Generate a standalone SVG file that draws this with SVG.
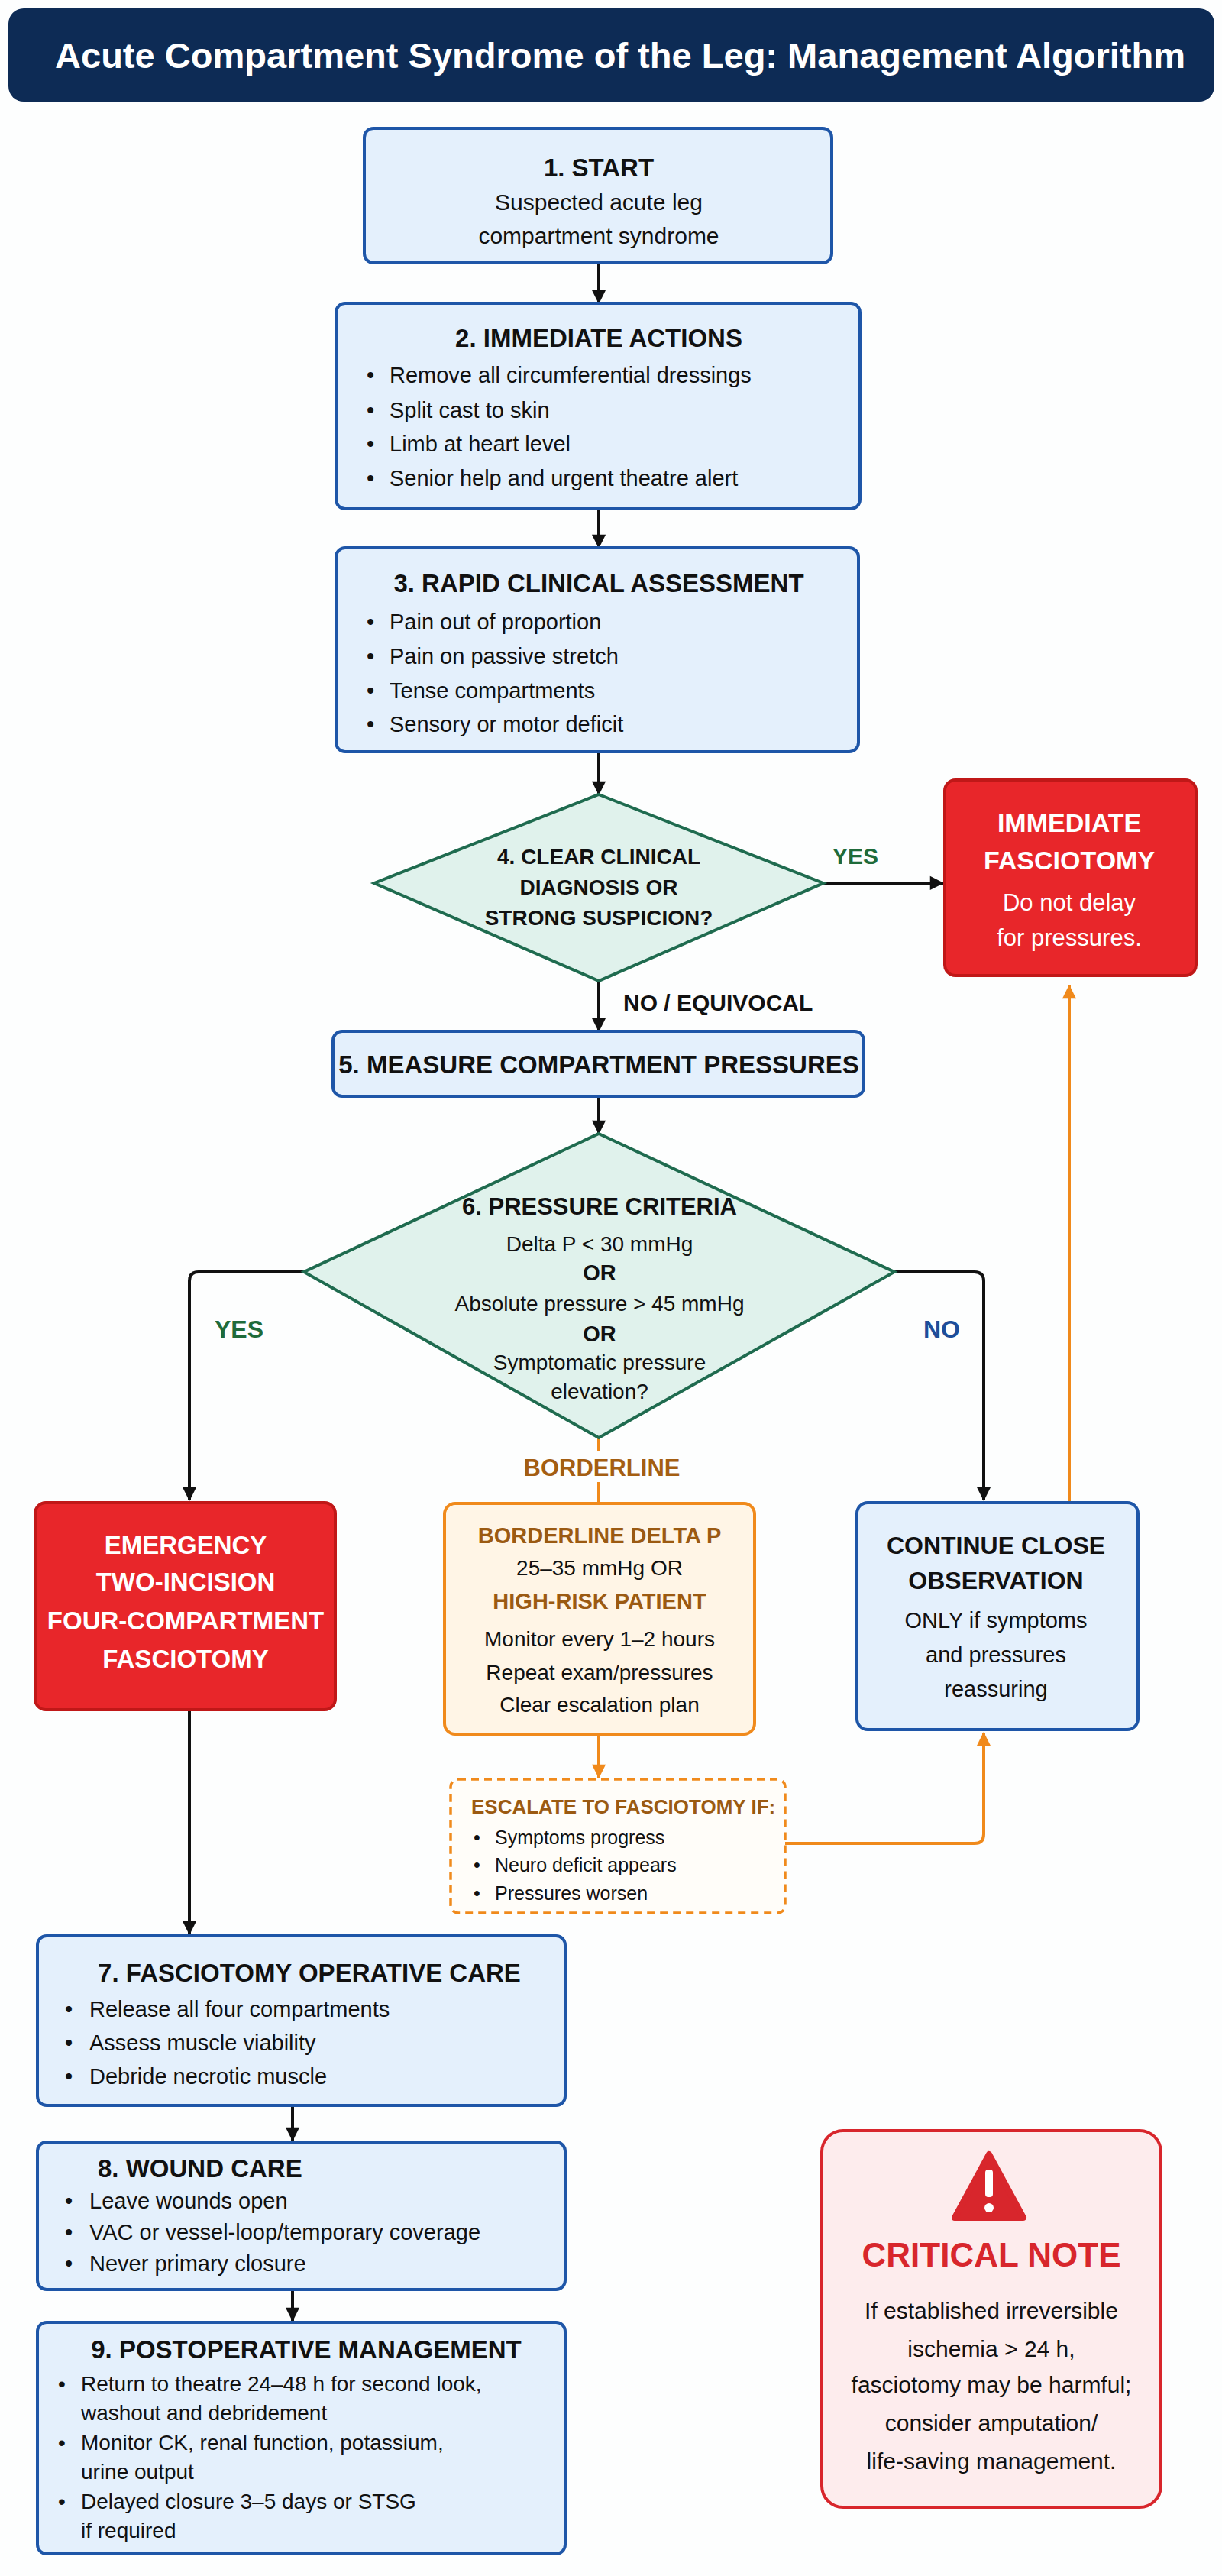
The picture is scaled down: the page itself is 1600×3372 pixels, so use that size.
<svg xmlns="http://www.w3.org/2000/svg" width="1600" height="3372" viewBox="0 0 1600 3372">
<style>
text{font-family:"Liberation Sans","Noto Sans",sans-serif;fill:#111}
.t{font-weight:bold;font-size:33px;text-anchor:middle}
.b{font-size:29px}
.c{font-size:30px;text-anchor:middle}
.box{fill:#e4f0fc;stroke:#1e56a8;stroke-width:4}
.dia{fill:#e0f2ec;stroke:#1f6b4f;stroke-width:4}
.red{fill:#e8262a;stroke:#c01818;stroke-width:4}
.w{fill:#fff;text-anchor:middle}
.ln{fill:none;stroke:#111;stroke-width:4}
.or{fill:none;stroke:#f08a1c;stroke-width:4}
</style>
<defs>
<marker id="ak" viewBox="0 0 10 10" refX="9" refY="5" markerWidth="7" markerHeight="7" markerUnits="userSpaceOnUse" orient="auto" style="overflow:visible"><path d="M0,0L10,5L0,10z" fill="#111" transform="scale(2.6) translate(-6,-3.1)"/></marker>
<marker id="ao" viewBox="0 0 10 10" refX="9" refY="5" markerWidth="7" markerHeight="7" markerUnits="userSpaceOnUse" orient="auto" style="overflow:visible"><path d="M0,0L10,5L0,10z" fill="#f08a1c" transform="scale(2.6) translate(-6,-3.1)"/></marker>
</defs>
<rect width="1600" height="3372" fill="#fdfefe"/>
<g id="title"><rect x="11" y="11" width="1579" height="122" rx="20" fill="#0d2b55"/>
<text x="812" y="89" font-size="46" font-weight="bold" text-anchor="middle" textLength="1480" lengthAdjust="spacingAndGlyphs" style="fill:#fff">Acute Compartment Syndrome of the Leg: Management Algorithm</text></g>

<g id="connectors">
<line class="ln" x1="784" y1="344" x2="784" y2="397" marker-end="url(#ak)"/>
<line class="ln" x1="784" y1="666" x2="784" y2="717" marker-end="url(#ak)"/>
<line class="ln" x1="784" y1="984" x2="784" y2="1040" marker-end="url(#ak)"/>
<line class="ln" x1="1078" y1="1156" x2="1235" y2="1156" marker-end="url(#ak)"/>
<line class="ln" x1="784" y1="1284" x2="784" y2="1350" marker-end="url(#ak)"/>
<line class="ln" x1="784" y1="1435" x2="784" y2="1484" marker-end="url(#ak)"/>
<path class="ln" d="M398,1665H260Q248,1665 248,1677V1964" marker-end="url(#ak)"/>
<path class="ln" d="M1171,1665H1276Q1288,1665 1288,1677V1964" marker-end="url(#ak)"/>
<path class="or" d="M784,1882V1900M784,1940V1968"/>
<line class="or" x1="1400" y1="1967" x2="1400" y2="1290" marker-end="url(#ao)"/>
<line class="or" x1="784" y1="2270" x2="784" y2="2327" marker-end="url(#ao)"/>
<path class="or" d="M1028,2413H1276Q1288,2413 1288,2401V2268" marker-end="url(#ao)"/>
<line class="ln" x1="248" y1="2238" x2="248" y2="2532" marker-end="url(#ak)"/>
<line class="ln" x1="383" y1="2756" x2="383" y2="2802" marker-end="url(#ak)"/>
<line class="ln" x1="383" y1="2997" x2="383" y2="3038" marker-end="url(#ak)"/>
<text x="1090" y="1131" font-size="30" font-weight="bold" style="fill:#1f6b3a">YES</text>
<text x="816" y="1323" font-size="30" font-weight="bold">NO / EQUIVOCAL</text>
<text x="281" y="1751" font-size="32" font-weight="bold" style="fill:#1f6b3a">YES</text>
<text x="1209" y="1751" font-size="32" font-weight="bold" style="fill:#1d4e9a">NO</text>
<text x="788" y="1932" font-size="31" font-weight="bold" text-anchor="middle" style="fill:#a45e12">BORDERLINE</text>
</g>

<g id="n1"><rect class="box" x="477" y="168" width="612" height="176" rx="12"/>
<text class="t" x="784" y="231">1. START</text>
<text class="c" x="784" y="275">Suspected acute leg</text>
<text class="c" x="784" y="319">compartment syndrome</text></g>

<g id="n2"><rect class="box" x="440" y="397" width="686" height="269" rx="12"/>
<text class="t" x="784" y="454">2. IMMEDIATE ACTIONS</text>
<g class="b"><text x="480" y="501">•</text><text x="510" y="501">Remove all circumferential dressings</text>
<text x="480" y="547">•</text><text x="510" y="547">Split cast to skin</text>
<text x="480" y="591">•</text><text x="510" y="591">Limb at heart level</text>
<text x="480" y="636">•</text><text x="510" y="636">Senior help and urgent theatre alert</text></g></g>

<g id="n3"><rect class="box" x="440" y="717" width="684" height="267" rx="12"/>
<text class="t" x="784" y="775">3. RAPID CLINICAL ASSESSMENT</text>
<g class="b"><text x="480" y="824">•</text><text x="510" y="824">Pain out of proportion</text>
<text x="480" y="869">•</text><text x="510" y="869">Pain on passive stretch</text>
<text x="480" y="914">•</text><text x="510" y="914">Tense compartments</text>
<text x="480" y="958">•</text><text x="510" y="958">Sensory or motor deficit</text></g></g>

<g id="n4"><path class="dia" d="M784,1040L1078,1156L784,1284L490,1156Z"/>
<g font-size="28" font-weight="bold" text-anchor="middle"><text x="784" y="1131">4. CLEAR CLINICAL</text><text x="784" y="1171">DIAGNOSIS OR</text><text x="784" y="1211">STRONG SUSPICION?</text></g></g>

<g id="n_imm"><rect class="red" x="1237" y="1021" width="329" height="256" rx="14"/>
<g class="w"><text x="1400" y="1089" font-size="34" font-weight="bold" style="fill:#fff">IMMEDIATE</text>
<text x="1400" y="1138" font-size="34" font-weight="bold" style="fill:#fff">FASCIOTOMY</text>
<text x="1400" y="1192" font-size="31" style="fill:#fff">Do not delay</text>
<text x="1400" y="1238" font-size="31" style="fill:#fff">for pressures.</text></g></g>

<g id="n5"><rect class="box" x="436" y="1350" width="695" height="85" rx="12"/>
<text class="t" x="784" y="1405" font-size="31">5. MEASURE COMPARTMENT PRESSURES</text></g>

<g id="n6"><path class="dia" d="M784,1484L1171,1665L784,1882L398,1665Z"/>
<g text-anchor="middle"><text x="785" y="1590" font-size="31" font-weight="bold">6. PRESSURE CRITERIA</text>
<text x="785" y="1638" font-size="28">Delta P &lt; 30 mmHg</text>
<text x="785" y="1676" font-size="29" font-weight="bold">OR</text>
<text x="785" y="1716" font-size="28">Absolute pressure &gt; 45 mmHg</text>
<text x="785" y="1756" font-size="29" font-weight="bold">OR</text>
<text x="785" y="1793" font-size="28">Symptomatic pressure</text>
<text x="785" y="1831" font-size="28">elevation?</text></g></g>

<g id="n_emerg"><rect class="red" x="46" y="1967" width="393" height="271" rx="14"/>
<g font-size="33" font-weight="bold" text-anchor="middle"><text x="243" y="2034" style="fill:#fff">EMERGENCY</text><text x="243" y="2082" style="fill:#fff">TWO-INCISION</text><text x="243" y="2133" style="fill:#fff">FOUR-COMPARTMENT</text><text x="243" y="2183" style="fill:#fff">FASCIOTOMY</text></g></g>

<g id="n_border"><rect x="582" y="1968" width="406" height="302" rx="14" fill="#fff5e6" stroke="#f08a1c" stroke-width="4"/>
<g text-anchor="middle"><text x="785" y="2020" font-size="29" font-weight="bold" style="fill:#9b5a12">BORDERLINE DELTA P</text>
<text x="785" y="2062" font-size="28">25–35 mmHg OR</text>
<text x="785" y="2106" font-size="29" font-weight="bold" style="fill:#9b5a12">HIGH-RISK PATIENT</text>
<text x="785" y="2155" font-size="28">Monitor every 1–2 hours</text>
<text x="785" y="2199" font-size="28">Repeat exam/pressures</text>
<text x="785" y="2241" font-size="28">Clear escalation plan</text></g></g>

<g id="n_obs"><rect class="box" x="1122" y="1967" width="368" height="297" rx="14"/>
<g text-anchor="middle"><text x="1304" y="2034" font-size="32" font-weight="bold">CONTINUE CLOSE</text>
<text x="1304" y="2080" font-size="32" font-weight="bold">OBSERVATION</text>
<text x="1304" y="2131" font-size="29">ONLY if symptoms</text>
<text x="1304" y="2176" font-size="29">and pressures</text>
<text x="1304" y="2221" font-size="29">reassuring</text></g></g>

<g id="n_esc"><rect x="590" y="2329" width="438" height="175" rx="10" fill="#fffdf9" stroke="#f08a1c" stroke-width="3.5" stroke-dasharray="10,7"/>
<text x="617" y="2374" font-size="26" font-weight="bold" style="fill:#9b5a12">ESCALATE TO FASCIOTOMY IF:</text>
<g font-size="25"><text x="620" y="2414">•</text><text x="648" y="2414">Symptoms progress</text>
<text x="620" y="2450">•</text><text x="648" y="2450">Neuro deficit appears</text>
<text x="620" y="2487">•</text><text x="648" y="2487">Pressures worsen</text></g></g>

<g id="n7"><rect class="box" x="49" y="2534" width="691" height="222" rx="12"/>
<text class="t" x="405" y="2594">7. FASCIOTOMY OPERATIVE CARE</text>
<g class="b"><text x="85" y="2640">•</text><text x="117" y="2640">Release all four compartments</text>
<text x="85" y="2684">•</text><text x="117" y="2684">Assess muscle viability</text>
<text x="85" y="2728">•</text><text x="117" y="2728">Debride necrotic muscle</text></g></g>

<g id="n8"><rect class="box" x="49" y="2804" width="691" height="193" rx="12"/>
<text x="128" y="2850" font-size="33" font-weight="bold">8. WOUND CARE</text>
<g class="b"><text x="85" y="2891">•</text><text x="117" y="2891">Leave wounds open</text>
<text x="85" y="2932">•</text><text x="117" y="2932">VAC or vessel-loop/temporary coverage</text>
<text x="85" y="2973">•</text><text x="117" y="2973">Never primary closure</text></g></g>

<g id="n9"><rect class="box" x="49" y="3040" width="691" height="303" rx="12"/>
<text class="t" x="401" y="3087">9. POSTOPERATIVE MANAGEMENT</text>
<g font-size="28"><text x="76" y="3130">•</text><text x="106" y="3130">Return to theatre 24–48 h for second look,</text>
<text x="106" y="3168">washout and debridement</text>
<text x="76" y="3207">•</text><text x="106" y="3207">Monitor CK, renal function, potassium,</text>
<text x="106" y="3245">urine output</text>
<text x="76" y="3284">•</text><text x="106" y="3284">Delayed closure 3–5 days or STSG</text>
<text x="106" y="3322">if required</text></g></g>

<g id="n_note"><rect x="1076" y="2789" width="444" height="493" rx="28" fill="#fdeced" stroke="#d8262c" stroke-width="4"/>
<path d="M1295,2820L1340,2903H1250Z" fill="#d8262c" stroke="#d8262c" stroke-width="8" stroke-linejoin="round"/>
<rect x="1290" y="2840" width="10" height="36" rx="4" fill="#fff"/><circle cx="1295" cy="2890" r="6" fill="#fff"/>
<text x="1298" y="2967" font-size="44" font-weight="bold" text-anchor="middle" style="fill:#d8262c">CRITICAL NOTE</text>
<g font-size="30" text-anchor="middle"><text x="1298" y="3035">If established irreversible</text>
<text x="1298" y="3085">ischemia &gt; 24 h,</text>
<text x="1298" y="3132">fasciotomy may be harmful;</text>
<text x="1298" y="3182">consider amputation/</text>
<text x="1298" y="3232">life-saving management.</text></g></g>
</svg>
